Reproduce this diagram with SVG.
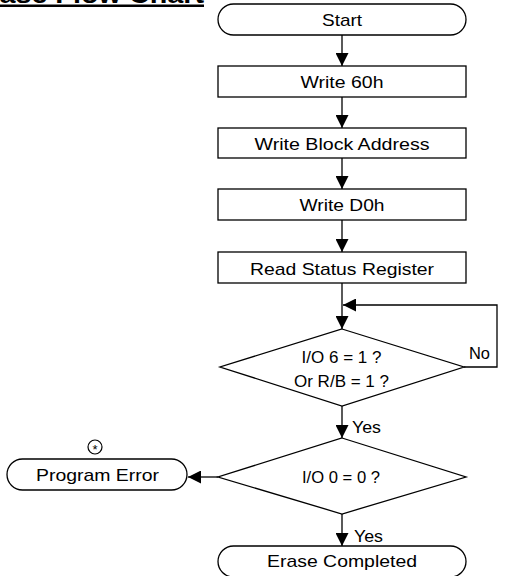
<svg xmlns="http://www.w3.org/2000/svg" width="515" height="576" viewBox="0 0 515 576">
<style>
.b{fill:#fff;stroke:#000;stroke-width:1.3}
.t{font-family:"Liberation Sans",Arial,sans-serif;font-size:17px;fill:#000;text-anchor:middle}
.l{font-family:"Liberation Sans",Arial,sans-serif;font-size:17px;fill:#000}
.c{fill:none;stroke:#000;stroke-width:1.3}
</style>
<defs>
<marker id="ah" markerUnits="userSpaceOnUse" markerWidth="14" markerHeight="13" refX="13" refY="6.5" orient="auto">
<path d="M0,0 L13,6.5 L0,13 z" fill="#000"/>
</marker>
</defs>
<rect width="515" height="576" fill="#fff"/>
<g id="title">
<text x="-31" y="3" font-family="'Liberation Sans',Arial,sans-serif" font-size="25" font-weight="bold" textLength="235" lengthAdjust="spacingAndGlyphs">Erase Flow Chart</text>
<line x1="-31" y1="5.8" x2="204" y2="5.8" stroke="#000" stroke-width="2.5"/>
</g>
<g id="connectors">
<line class="c" x1="342" y1="35" x2="342" y2="66" marker-end="url(#ah)"/>
<line class="c" x1="342" y1="97" x2="342" y2="128" marker-end="url(#ah)"/>
<line class="c" x1="342" y1="158" x2="342" y2="189" marker-end="url(#ah)"/>
<line class="c" x1="342" y1="220" x2="342" y2="252" marker-end="url(#ah)"/>
<line class="c" x1="342" y1="283" x2="342" y2="329" marker-end="url(#ah)"/>
<polyline class="c" points="464,367 497,367 497,305 343,305" marker-end="url(#ah)"/>
<line class="c" x1="342" y1="406" x2="342" y2="438" marker-end="url(#ah)"/>
<line class="c" x1="218" y1="477" x2="188" y2="477" marker-end="url(#ah)"/>
<line class="c" x1="342" y1="514" x2="342" y2="546" marker-end="url(#ah)"/>
<text class="l" x="469" y="359" textLength="21" lengthAdjust="spacingAndGlyphs">No</text>
<text class="l" x="352" y="433" textLength="29" lengthAdjust="spacingAndGlyphs">Yes</text>
<text class="l" x="354" y="542" textLength="29" lengthAdjust="spacingAndGlyphs">Yes</text>
</g>
<g id="start">
<rect class="b" x="218" y="4" width="248" height="31" rx="15.5" ry="15.5"/>
<text class="t" x="342" y="26" textLength="40" lengthAdjust="spacingAndGlyphs">Start</text>
</g>
<g id="write60">
<rect class="b" x="218" y="66" width="248" height="31"/>
<text class="t" x="342" y="87.5" textLength="83" lengthAdjust="spacingAndGlyphs">Write 60h</text>
</g>
<g id="writeaddr">
<rect class="b" x="218" y="128" width="248" height="30"/>
<text class="t" x="342" y="149.5" textLength="175" lengthAdjust="spacingAndGlyphs">Write Block Address</text>
</g>
<g id="writed0">
<rect class="b" x="218" y="189" width="248" height="31"/>
<text class="t" x="342" y="211" textLength="85" lengthAdjust="spacingAndGlyphs">Write D0h</text>
</g>
<g id="readstatus">
<rect class="b" x="218" y="252" width="248" height="31"/>
<text class="t" x="342" y="275" textLength="184" lengthAdjust="spacingAndGlyphs">Read Status Register</text>
</g>
<g id="decision1">
<polygon class="b" points="342,329 464,367 342,406 220,367"/>
<text class="t" x="341.5" y="363" textLength="80" lengthAdjust="spacingAndGlyphs">I/O 6 = 1 ?</text>
<text class="t" x="341.5" y="387" textLength="95" lengthAdjust="spacingAndGlyphs">Or R/B = 1 ?</text>
</g>
<g id="decision2">
<polygon class="b" points="342,438 466,477 342,514 218,477"/>
<text class="t" x="341" y="483" textLength="78" lengthAdjust="spacingAndGlyphs">I/O 0 = 0 ?</text>
</g>
<g id="programerror">
<circle cx="95" cy="447" r="7" fill="#fff" stroke="#000" stroke-width="1.2"/>
<text x="95" y="454" font-family="'Liberation Sans',Arial,sans-serif" font-size="13" text-anchor="middle">*</text>
<rect class="b" x="7" y="459" width="180" height="31" rx="15.5" ry="15.5"/>
<text class="t" x="97.5" y="481" textLength="123" lengthAdjust="spacingAndGlyphs">Program Error</text>
</g>
<g id="erasecompleted">
<rect class="b" x="218" y="546" width="248" height="31" rx="15.5" ry="15.5"/>
<text class="t" x="342" y="567" textLength="150" lengthAdjust="spacingAndGlyphs">Erase Completed</text>
</g>
</svg>
